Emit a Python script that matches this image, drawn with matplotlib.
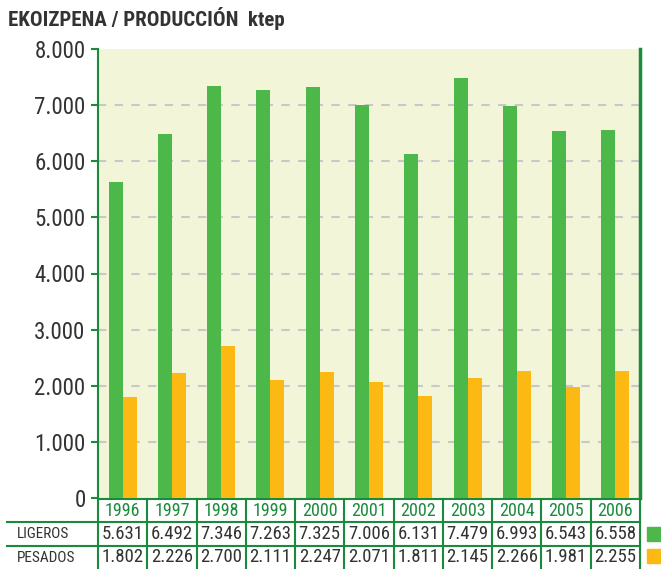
import matplotlib.pyplot as plt
from matplotlib.transforms import blended_transform_factory
from matplotlib.patches import Rectangle

# Data
years = ['1996', '1997', '1998', '1999', '2000', '2001', '2002', '2003', '2004', '2005', '2006']
ligeros = [5631, 6492, 7346, 7263, 7325, 7006, 6131, 7479, 6993, 6543, 6558]
pesados = [1802, 2226, 2700, 2111, 2247, 2071, 1811, 2145, 2266, 1981, 2255]
row_labels = ['LIGEROS', 'PESADOS']
yticks = [0, 1000, 2000, 3000, 4000, 5000, 6000, 7000, 8000]

green = '#4cb84a'
orange = '#fdb913'
line_green = '#1a8a3c'
dark = '#333333'

plt.rcParams['font.family'] = ['Roboto Condensed', 'Asap Condensed', 'DejaVu Sans']

def fmt(v):
    return f"{v:,}".replace(',', '.')

fig = plt.figure(figsize=(6.61, 5.69), dpi=100)
ax = fig.add_axes([98 / 661, 71 / 569, 542 / 661, 449 / 569])
ax.set_facecolor('#f2f5d7')

x = list(range(len(years)))
w = 0.285
ax.bar([i - w / 2 for i in x], ligeros, width=w, color=green, zorder=3)
ax.bar([i + w / 2 for i in x], pesados, width=w, color=orange, zorder=3)

ax.set_xlim(-0.5, len(years) - 0.5)
ax.set_ylim(0, 8000)
ax.set_yticks(yticks)
ax.set_yticklabels([fmt(v) for v in yticks], fontsize=16.5, color=dark)
ax.tick_params(axis='y', colors=line_green, labelcolor=dark, length=5, width=1.5, pad=4)
ax.set_xticks([])
for v in yticks[1:-1]:
    ax.axhline(v, color='#c8c8c8', linestyle=(0, (4, 4)), linewidth=1.5, zorder=1)

for s in ['top', 'bottom']:
    ax.spines[s].set_visible(False)
ax.spines['left'].set_color(line_green)
ax.spines['left'].set_linewidth(1.5)
ax.spines['right'].set_color(line_green)
ax.spines['right'].set_linewidth(2.5)

# table below the chart
tr = blended_transform_factory(ax.transData, ax.transAxes)
px = 449.0
row_y = [-1 / px, -24 / px, -48 / px, -71 / px]
x_left = -0.5 - 90 / 49.0
x_right = len(years) - 0.5
kw = dict(transform=tr, clip_on=False, color=line_green, linewidth=1.5)
ax.plot([-0.5, x_right], [row_y[0], row_y[0]], **kw)
for yy in row_y[1:3]:
    ax.plot([x_left, x_right], [yy, yy], **kw)
for i in range(len(years) + 1):
    ax.plot([i - 0.5, i - 0.5], [row_y[0], row_y[3]], **kw)

for i, yr in enumerate(years):
    ax.text(i, (row_y[0] + row_y[1]) / 2, yr, transform=tr, ha='center', va='center',
            fontsize=13, color=line_green)
    ax.text(i, (row_y[1] + row_y[2]) / 2, fmt(ligeros[i]), transform=tr, ha='center',
            va='center', fontsize=13.5, color=dark)
    ax.text(i, (row_y[2] + row_y[3]) / 2, fmt(pesados[i]), transform=tr, ha='center',
            va='center', fontsize=13.5, color=dark)

for k, lab in enumerate(row_labels):
    ax.text(x_left + 0.2, (row_y[k + 1] + row_y[k + 2]) / 2, lab, transform=tr,
            ha='left', va='center', fontsize=11, color=dark)

# legend squares
fig.patches.append(Rectangle((647 / 661, (569 - 541) / 569), 14 / 661, 14 / 569,
                             transform=fig.transFigure, color=green))
fig.patches.append(Rectangle((647 / 661, (569 - 563) / 569), 14 / 661, 14 / 569,
                             transform=fig.transFigure, color=orange))

fig.text(8 / 661, 1 - 19 / 569, 'EKOIZPENA / PRODUCCIÓN  ktep', fontsize=15,
         fontweight='bold', color=dark, ha='left', va='center')

fig.savefig('out.png', dpi=100)
